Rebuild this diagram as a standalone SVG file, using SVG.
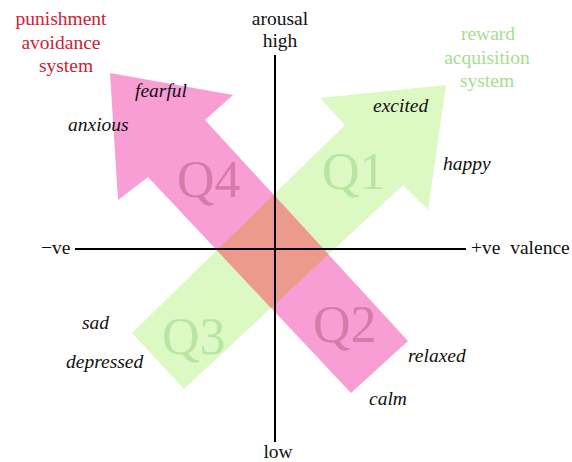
<svg xmlns="http://www.w3.org/2000/svg" width="572" height="462" viewBox="0 0 572 462">
<style>
text{font-family:"Liberation Serif",Tinos,"Noto Serif","DejaVu Serif",FreeSerif,"Nimbus Roman","Nimbus Roman No9 L","Times New Roman",Times,serif}
.sys{font-size:19.5px;text-anchor:middle}
.red{fill:#cc2233}
.grn{fill:#a6de8c}
.ax{font-size:19.5px;fill:#111}
.emo{font-size:19.5px;font-style:italic;fill:#111}
.q{font-size:52px}
.qp{fill:#d67aaa}
.qg{fill:#b8e6a2}
.axis{stroke:#000;stroke-width:2;fill:none}
</style>
<defs>
<polygon id="gshape" points="446,85 428,210 403,185 184,389 132,333 345,125 320,98"/>
<polygon id="pshape" points="110,73 233,95 205,120 408,341 351,393 148,177 118,200"/>
<clipPath id="gclip"><use href="#gshape"/></clipPath>
</defs>
<rect width="572" height="462" fill="#fff"/>
<g id="reward-arrow">
<use href="#gshape" fill="#dcf9c4"/>
</g>
<g id="punishment-arrow">
<use href="#pshape" fill="#f99ed4"/>
</g>
<g id="overlap">
<use href="#pshape" fill="#ec9a8c" clip-path="url(#gclip)"/>
</g>
<g id="quadrants">
<text class="q qg" x="322" y="189">Q1</text>
<text class="q qp" x="313" y="342">Q2</text>
<text class="q qg" x="162" y="354">Q3</text>
<text class="q qp" x="177" y="197">Q4</text>
</g>
<g id="connectors">
<line class="axis" x1="75" y1="249" x2="466" y2="249"/>
<line class="axis" x1="275" y1="55" x2="275" y2="442"/>
</g>
<g id="axis-labels">
<text class="ax" x="280" y="25" text-anchor="middle">arousal</text>
<text class="ax" x="280" y="47" text-anchor="middle">high</text>
<text class="ax" x="278" y="458" text-anchor="middle">low</text>
<text class="ax" x="41" y="254">−ve</text>
<text class="ax" x="471" y="254" xml:space="preserve">+ve  valence</text>
</g>
<g id="punishment-label">
<text class="sys red" x="61" y="25">punishment</text>
<text class="sys red" x="61" y="49">avoidance</text>
<text class="sys red" x="66" y="72">system</text>
</g>
<g id="reward-label">
<text class="sys grn" x="488" y="40">reward</text>
<text class="sys grn" x="487" y="64">acquisition</text>
<text class="sys grn" x="487" y="87">system</text>
</g>
<g id="emotions">
<text class="emo" x="135" y="97">fearful</text>
<text class="emo" x="68" y="131">anxious</text>
<text class="emo" x="373" y="112">excited</text>
<text class="emo" x="443" y="170">happy</text>
<text class="emo" x="82" y="329">sad</text>
<text class="emo" x="66" y="368">depressed</text>
<text class="emo" x="408" y="362">relaxed</text>
<text class="emo" x="369" y="405">calm</text>
</g>
</svg>
